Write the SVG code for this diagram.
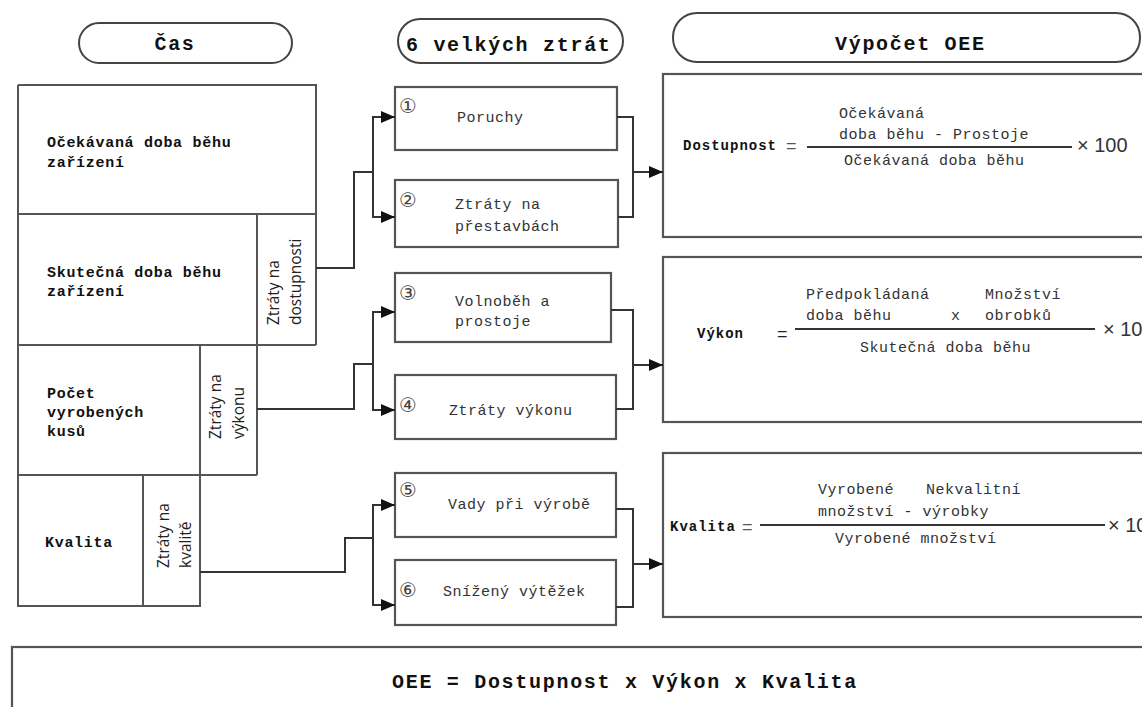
<svg xmlns="http://www.w3.org/2000/svg" width="1142" height="707" viewBox="0 0 1142 707">
  <style>
    .frame { fill: #fff; stroke: #555; stroke-width: 2.2; }
    .grid { fill: none; stroke: #555; stroke-width: 2; }
    .pill { fill: #fff; stroke: #444; stroke-width: 2; }
    .wire { fill: none; stroke: #333; stroke-width: 2; }
    .bar { stroke: #333; stroke-width: 2; }
    .title { font-family: "Liberation Mono", "DejaVu Sans Mono", monospace; font-weight: bold; font-size: 20px; letter-spacing: 1.7px; fill: #111; }
    .cell { font-family: "Liberation Mono", "DejaVu Sans Mono", monospace; font-weight: bold; font-size: 15px; letter-spacing: 0.7px; fill: #111; }
    .loss { font-family: "Open Sans", "Liberation Sans", sans-serif; font-size: 15.5px; fill: #222; }
    .mono { font-family: "Liberation Mono", "DejaVu Sans Mono", monospace; font-size: 15px; letter-spacing: 0.5px; fill: #333; }
    .num { font-family: "DejaVu Sans", sans-serif; font-size: 20px; fill: #444; text-anchor: middle; }
    .lbl { font-family: "Liberation Mono", "DejaVu Sans Mono", monospace; font-weight: bold; font-size: 14px; letter-spacing: 1px; fill: #111; }
    .eq { font-family: "Liberation Sans", sans-serif; font-size: 18px; fill: #555; }
    .times { font-family: "Liberation Sans", sans-serif; font-size: 20px; fill: #333; }
  </style>
  <defs>
    <marker id="arrow" markerWidth="14" markerHeight="12" refX="14" refY="6" orient="auto" markerUnits="userSpaceOnUse">
      <path d="M0,0 L14,6 L0,12 z" fill="#111"/>
    </marker>
  </defs>

  <rect width="1142" height="707" fill="#fff"/>

  <!-- column headings -->
  <g id="head-time">
    <rect class="pill" x="79" y="23" width="213" height="40" rx="20"/>
    <text class="title" x="175" y="50" text-anchor="middle">Čas</text>
  </g>
  <g id="head-losses">
    <rect class="pill" x="398" y="19" width="225" height="44" rx="22"/>
    <text class="title" x="406" y="51">6 velkých ztrát</text>
  </g>
  <g id="head-oee">
    <rect class="pill" x="673" y="13" width="467" height="49" rx="24"/>
    <text class="title" x="835" y="50">Výpočet OEE</text>
  </g>

  <!-- time breakdown table -->
  <g id="time-table">
    <path class="grid" d="M18,85 H316 V345 M18,85 V606 H200 V345 M18,214 H316 M18,345 H316 M257,214 V475 M18,475 H257 M143,475 V606"/>
    <text class="cell" x="47" y="147">Očekávaná doba běhu</text>
    <text class="cell" x="47" y="167">zařízení</text>
    <text class="cell" x="47" y="277">Skutečná doba běhu</text>
    <text class="cell" x="47" y="296">zařízení</text>
    <text class="cell" x="47" y="398">Počet</text>
    <text class="cell" x="47" y="417">vyrobených</text>
    <text class="cell" x="47" y="436">kusů</text>
    <text class="cell" x="45" y="547">Kvalita</text>
  </g>
  <g id="loss-availability">
    <text class="loss" transform="translate(279,325) rotate(-90)">Ztráty na</text>
    <text class="loss" transform="translate(301,325) rotate(-90)">dostupnosti</text>
  </g>
  <g id="loss-performance">
    <text class="loss" transform="translate(221,439) rotate(-90)">Ztráty na</text>
    <text class="loss" transform="translate(244,439) rotate(-90)">výkonu</text>
  </g>
  <g id="loss-quality">
    <text class="loss" transform="translate(169,568) rotate(-90)">Ztráty na</text>
    <text class="loss" transform="translate(191,568) rotate(-90)">kvalitě</text>
  </g>

  <!-- six big losses -->
  <g id="loss-1">
    <rect class="frame" x="395" y="87" width="222" height="63"/>
    <text class="num" x="408" y="113">①</text>
    <text class="mono" x="457" y="122">Poruchy</text>
  </g>
  <g id="loss-2">
    <rect class="frame" x="395" y="180" width="223" height="67"/>
    <text class="num" x="408" y="207">②</text>
    <text class="mono" x="455" y="209">Ztráty na</text>
    <text class="mono" x="455" y="231">přestavbách</text>
  </g>
  <g id="loss-3">
    <rect class="frame" x="395" y="273" width="216" height="69"/>
    <text class="num" x="408" y="300">③</text>
    <text class="mono" x="455" y="306">Volnoběh a</text>
    <text class="mono" x="455" y="326">prostoje</text>
  </g>
  <g id="loss-4">
    <rect class="frame" x="395" y="375" width="221" height="64"/>
    <text class="num" x="408" y="412">④</text>
    <text class="mono" x="449" y="415">Ztráty výkonu</text>
  </g>
  <g id="loss-5">
    <rect class="frame" x="395" y="473" width="221" height="64"/>
    <text class="num" x="408" y="497">⑤</text>
    <text class="mono" x="448" y="509">Vady při výrobě</text>
  </g>
  <g id="loss-6">
    <rect class="frame" x="395" y="560" width="221" height="65"/>
    <text class="num" x="408" y="597">⑥</text>
    <text class="mono" x="443" y="596">Snížený výtěžek</text>
  </g>

  <!-- OEE factor formulas -->
  <g id="calc-availability">
    <rect class="frame" x="663" y="74" width="500" height="163"/>
    <text class="lbl" x="683" y="150">Dostupnost</text>
    <text class="eq" x="786" y="152">=</text>
    <line class="bar" x1="807" y1="147" x2="1072" y2="147"/>
    <text class="mono" x="839" y="118">Očekávaná</text>
    <text class="mono" x="839" y="139">doba běhu - Prostoje</text>
    <text class="mono" x="844" y="165">Očekávaná doba běhu</text>
    <text class="times" x="1077" y="152">× 100</text>
  </g>
  <g id="calc-performance">
    <rect class="frame" x="663" y="257" width="500" height="165"/>
    <text class="lbl" x="697" y="338">Výkon</text>
    <text class="eq" x="777" y="340" style="fill:#222">=</text>
    <line class="bar" x1="795" y1="329" x2="1095" y2="329"/>
    <text class="mono" x="806" y="299">Předpokládaná</text>
    <text class="mono" x="985" y="299">Množství</text>
    <text class="mono" x="806" y="320">doba běhu</text>
    <text class="mono" x="951" y="320">x</text>
    <text class="mono" x="985" y="320">obrobků</text>
    <text class="mono" x="860" y="352">Skutečná doba běhu</text>
    <text class="times" x="1103" y="336">× 100</text>
  </g>
  <g id="calc-quality">
    <rect class="frame" x="663" y="453" width="500" height="164"/>
    <text class="lbl" x="670" y="531">Kvalita</text>
    <text class="eq" x="742" y="533">=</text>
    <line class="bar" x1="760" y1="525" x2="1105" y2="525"/>
    <text class="mono" x="818" y="494">Vyrobené</text>
    <text class="mono" x="926" y="494">Nekvalitní</text>
    <text class="mono" x="818" y="516">množství - výrobky</text>
    <text class="mono" x="835" y="543">Vyrobené množství</text>
    <text class="times" x="1108" y="532">× 100</text>
  </g>

  <!-- overall result -->
  <g id="oee-total">
    <rect class="frame" x="12" y="647" width="1150" height="80"/>
    <text class="title" x="392" y="688">OEE = Dostupnost x Výkon x Kvalita</text>
  </g>

  <!-- connectors -->
  <g id="connectors">
    <path class="wire" d="M316,268 H354 V172 H373"/>
    <path class="wire" d="M373,172 V117 H395" marker-end="url(#arrow)"/>
    <path class="wire" d="M373,172 V217 H395" marker-end="url(#arrow)"/>
    <path class="wire" d="M617,117 H633 V217 H618"/>
    <path class="wire" d="M633,172 H663" marker-end="url(#arrow)"/>

    <path class="wire" d="M257,409 H354 V364 H373"/>
    <path class="wire" d="M373,364 V312 H395" marker-end="url(#arrow)"/>
    <path class="wire" d="M373,364 V410 H395" marker-end="url(#arrow)"/>
    <path class="wire" d="M611,310 H633 V409 H616"/>
    <path class="wire" d="M633,365 H663" marker-end="url(#arrow)"/>

    <path class="wire" d="M200,572 H345 V538 H373"/>
    <path class="wire" d="M373,538 V505 H395" marker-end="url(#arrow)"/>
    <path class="wire" d="M373,538 V605 H395" marker-end="url(#arrow)"/>
    <path class="wire" d="M616,509 H633 V607 H616"/>
    <path class="wire" d="M633,564 H663" marker-end="url(#arrow)"/>
  </g>
</svg>
